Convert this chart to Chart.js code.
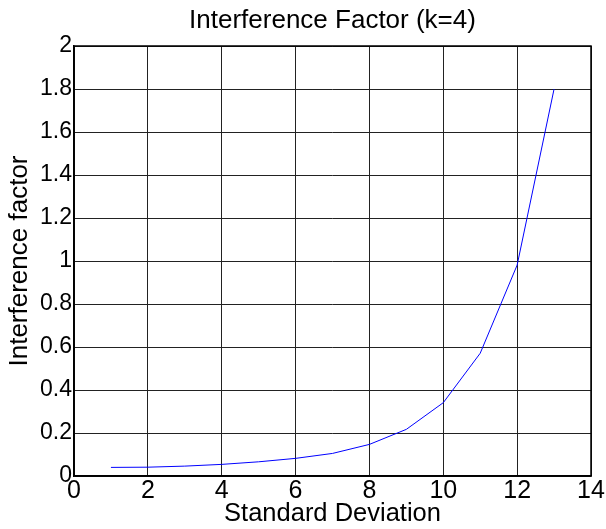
<!DOCTYPE html>
<html>
<head>
<meta charset="utf-8">
<script src="https://cdn.jsdelivr.net/npm/chart.js@4/dist/chart.umd.min.js"></script>
<style>
  html, body { margin: 0; padding: 0; background: #fff; }
  #wrap { width: 606px; height: 529px; }
</style>
</head>
<body>
<div id="wrap"><canvas id="c" width="606" height="529"></canvas></div>
<script>
const chartTitle = "Interference Factor (k=4)";
const xAxisTitle = "Standard Deviation";
const yAxisTitle = "Interference factor";
const stdDeviation = [1, 2, 3, 4, 5, 6, 7, 8, 9, 10, 11, 12, 13];
const interferenceFactor = [0.040, 0.041, 0.046, 0.054, 0.066, 0.082, 0.105, 0.147, 0.217, 0.341, 0.571, 0.981, 1.80];
const xTicks = [0, 2, 4, 6, 8, 10, 12, 14];
const yTicks = [0, 0.2, 0.4, 0.6, 0.8, 1, 1.2, 1.4, 1.6, 1.8, 2];

const FONT = "'Liberation Sans', Arial, Helvetica, sans-serif";

const boxPlugin = {
  id: 'box',
  afterDatasetsDraw(chart) {
    const {ctx, chartArea: a} = chart;
    ctx.save();
    ctx.strokeStyle = '#000';
    ctx.lineWidth = 1.5;
    ctx.strokeRect(a.left, a.top, a.right - a.left, a.bottom - a.top);
    ctx.restore();
  }
};

new Chart(document.getElementById('c'), {
  type: 'line',
  data: {
    datasets: [{
      data: stdDeviation.map((x, i) => ({x: x, y: interferenceFactor[i]})),
      borderColor: '#0000ff',
      borderWidth: 1,
      pointRadius: 0,
      tension: 0,
      fill: false
    }]
  },
  options: {
    responsive: false,
    devicePixelRatio: 1,
    animation: false,
    layout: { padding: { top: 0, right: 15, left: 0, bottom: 0 } },
    plugins: {
      legend: { display: false },
      tooltip: { enabled: false },
      title: {
        display: true,
        text: chartTitle,
        fullSize: false,
        color: '#000',
        font: { family: FONT, size: 26, weight: 'normal', lineHeight: 1.2 },
        padding: { top: 5, bottom: 9.8 }
      }
    },
    scales: {
      x: {
        type: 'linear',
        min: 0, max: 14,
        afterFit(s) { s.height = 53; },
        afterBuildTicks(s) { s.ticks = xTicks.map(v => ({value: v})); },
        ticks: {
          color: '#000',
          padding: 0,
          maxRotation: 0,
          font: { family: FONT, size: 25 },
          callback: v => String(v)
        },
        grid: { color: '#222', lineWidth: 1, drawTicks: false },
        border: { color: '#000', width: 1.5 },
        title: {
          display: true,
          text: xAxisTitle,
          color: '#000',
          font: { family: FONT, size: 25.5, lineHeight: 1.2 },
          padding: { top: 0, bottom: 0 }
        }
      },
      y: {
        type: 'linear',
        min: 0, max: 2,
        afterFit(s) { s.width = 74; },
        afterBuildTicks(s) { s.ticks = yTicks.map(v => ({value: v})); },
        ticks: {
          color: '#000',
          padding: 2,
          font: { family: FONT, size: 23 },
          callback: v => String(Math.round(v * 10) / 10)
        },
        grid: { color: '#222', lineWidth: 1, drawTicks: false },
        border: { color: '#000', width: 1.5 },
        title: {
          display: true,
          text: yAxisTitle,
          color: '#000',
          font: { family: FONT, size: 26, lineHeight: 1.2 },
          padding: { top: 4, bottom: 0 }
        }
      }
    }
  },
  plugins: [boxPlugin]
});
</script>
</body>
</html>
